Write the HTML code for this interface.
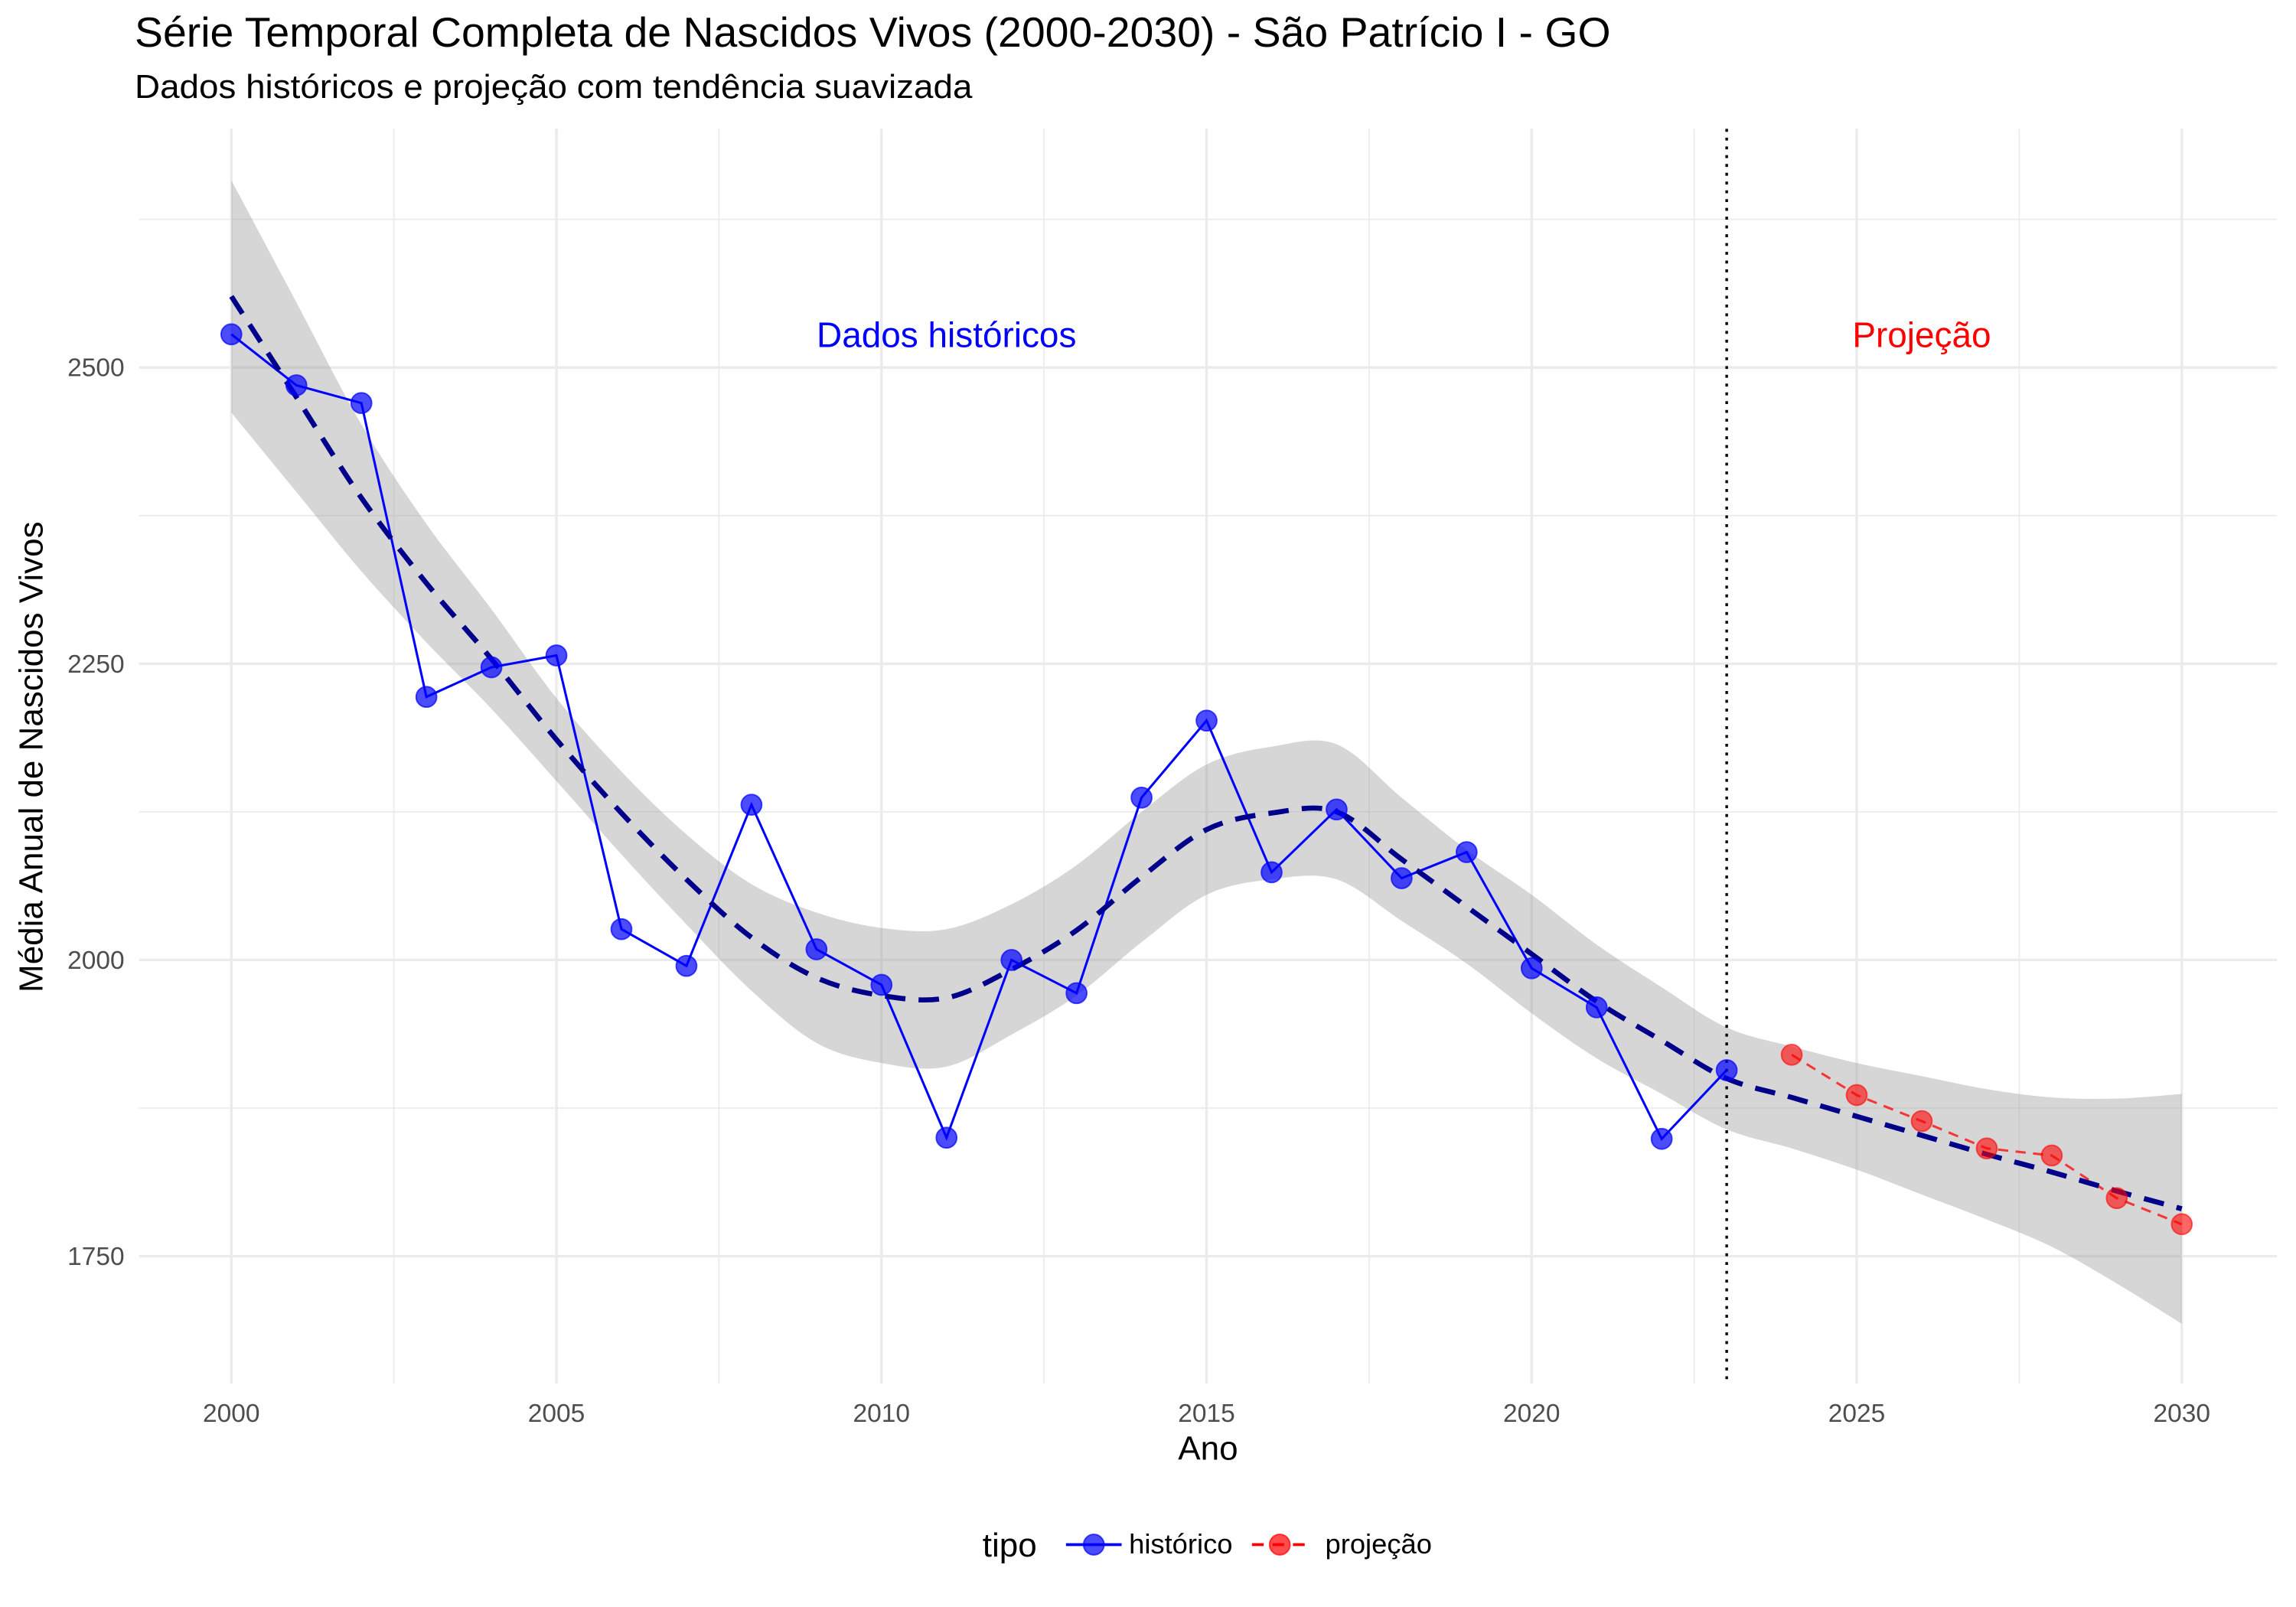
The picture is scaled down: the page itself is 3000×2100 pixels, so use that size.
<!DOCTYPE html>
<html><head><meta charset="utf-8"><style>
html,body{margin:0;padding:0;background:#fff;}
svg{display:block;font-family:"Liberation Sans",sans-serif;}
</style></head><body>
<svg id="chart" width="3000" height="2100" viewBox="0 0 1568 1097.6" xmlns="http://www.w3.org/2000/svg">
<rect width="1568" height="1097.6" fill="#fff"/>
<text x="92" y="32" font-size="28.5" fill="#000" textLength="1008" lengthAdjust="spacingAndGlyphs">Série Temporal Completa de Nascidos Vivos (2000-2030) -  São Patrício I - GO</text>
<text x="92" y="67" font-size="23" fill="#000" textLength="572" lengthAdjust="spacingAndGlyphs">Dados históricos e projeção com tendência suavizada</text>
<g id="grid"></g>
<g id="band"></g>
<g id="marks"></g>
<g id="axes"></g>
<text x="825" y="997" font-size="23" text-anchor="middle">Ano</text>
<text transform="translate(29,517) rotate(-90)" font-size="23" text-anchor="middle">Média Anual de Nascidos Vivos</text>
<g>
<text x="671" y="1063" font-size="23">tipo</text>
<g>
<line x1="728" y1="1055" x2="766" y2="1055" stroke="#0000ff" stroke-width="2"/>
<circle cx="747" cy="1055" r="7" fill="#0000ff" fill-opacity="0.7" stroke="#0000ff" stroke-opacity="0.7"/>
<text x="771" y="1061" font-size="19">histórico</text></g>
<g>
<line x1="855" y1="1055" x2="893" y2="1055" stroke="#ff0000" stroke-width="2" stroke-dasharray="8,6"/>
<circle cx="874" cy="1055" r="7" fill="#ff0000" fill-opacity="0.7" stroke="#ff0000" stroke-opacity="0.7"/>
<text x="905" y="1061" font-size="19">projeção</text></g>
</g>
</svg>
<script>
const histYears=[2000,2001,2002,2003,2004,2005,2006,2007,2008,2009,2010,2011,2012,2013,2014,2015,2016,2017,2018,2019,2020,2021,2022,2023];
const histValues=[2528,2485,2470,2222,2247,2257,2026,1995,2131,2009,1979,1850,2000,1972,2137,2202,2074,2127,2069,2091,1993,1960,1849,1907];
const projYears=[2024,2025,2026,2027,2028,2029,2030];
const projValues=[1920,1886,1864,1841,1835,1799,1777];
const trendYears=[2000,2001,2002,2003,2004,2005,2006,2007,2008,2009,2010,2011,2012,2013,2014,2015,2016,2017,2018,2019,2020,2021,2022,2023,2024,2025,2026,2027,2028,2029,2030];
const trendValues=[2560,2475,2390,2318,2254,2186,2124,2068,2019,1985,1970,1968,1992,2025,2070,2110,2124,2125,2085,2045,2005,1965,1932,1900,1884,1868,1852,1836,1821,1805,1790];
const upperValues=[2658,2555,2452,2368,2296,2221,2159,2106,2064,2040,2027,2026,2047,2080,2125,2165,2180,2182,2137,2093,2055,2013,1977,1943,1927,1913,1902,1891,1884,1883,1887];
const lowerValues=[2462,2395,2328,2268,2212,2151,2089,2030,1974,1930,1913,1910,1937,1970,2015,2055,2068,2068,2033,1997,1955,1917,1887,1857,1841,1823,1802,1781,1758,1727,1693];
const xTicks=[2000,2005,2010,2015,2020,2025,2030];
const yTicks=[1750,2000,2250,2500];
const splitYear=2023;
const NS="http://www.w3.org/2000/svg";
const X0=95,X1=1555,Y0=88,Y1=945;
function xs(v){return 158+(v-2000)*(1490-158)/30;}
function ys(v){return 251+(2500-v)*(858-251)/750;}
function mk(tag,attrs,parent){const e=document.createElementNS(NS,tag);for(const k in attrs)e.setAttribute(k,attrs[k]);parent.appendChild(e);return e;}
function smooth(pts){let d="M"+pts[0][0]+","+pts[0][1];for(let i=0;i<pts.length-1;i++){const p0=pts[Math.max(0,i-1)],p1=pts[i],p2=pts[i+1],p3=pts[Math.min(pts.length-1,i+2)];d+=" C"+(p1[0]+(p2[0]-p0[0])/6)+","+(p1[1]+(p2[1]-p0[1])/6)+" "+(p2[0]-(p3[0]-p1[0])/6)+","+(p2[1]-(p3[1]-p1[1])/6)+" "+p2[0]+","+p2[1];}return d;}
const grid=document.getElementById('grid');
for(let v=1750-125;v<=2625;v+=125){const y=ys(v);if(y<Y0||y>Y1)continue;const major=(v%250===0);
const l=mk('line',{x1:X0,x2:X1,y1:y,y2:y,stroke:'#ebebeb','stroke-width':major?1.8:0.9},grid);

}
for(let v=1997.5;v<=2032.5;v+=2.5){const x=xs(v);if(x<X0||x>X1)continue;const major=(v%5===0);
const l=mk('line',{x1:x,x2:x,y1:Y0,y2:Y1,stroke:'#ebebeb','stroke-width':major?1.8:0.9},grid);

}
const axes=document.getElementById('axes');
xTicks.forEach(t=>{const e=mk('text',{x:xs(t),y:971,'font-size':17.5,fill:'#4d4d4d','text-anchor':'middle'},axes);e.textContent=t;

});
yTicks.forEach(t=>{const e=mk('text',{x:85,y:ys(t)+6,'font-size':17.5,fill:'#4d4d4d','text-anchor':'end'},axes);e.textContent=t;

});
const band=document.getElementById('band');
const up=trendYears.map((y,i)=>[xs(y),ys(upperValues[i])]);
const lo=trendYears.map((y,i)=>[xs(y),ys(lowerValues[i])]).reverse();
const bp=mk('path',{d:smooth(up)+" L"+smooth(lo).slice(1)+" Z",fill:'#999999','fill-opacity':0.4},band);


const marks=document.getElementById('marks');
const hp=mk('polyline',{points:histYears.map((y,i)=>xs(y)+","+ys(histValues[i])).join(" "),fill:'none',stroke:'#0000ff','stroke-width':1.6},marks);


const pp=mk('polyline',{points:projYears.map((y,i)=>xs(y)+","+ys(projValues[i])).join(" "),fill:'none',stroke:'#ff0000','stroke-width':1.6,'stroke-dasharray':'7,5','stroke-opacity':0.75},marks);


const tp=mk('path',{d:smooth(trendYears.map((y,i)=>[xs(y),ys(trendValues[i])])),fill:'none',stroke:'#00008b','stroke-width':3.5,'stroke-dasharray':'14,9'},marks);


const vl=mk('line',{x1:xs(splitYear),x2:xs(splitYear),y1:Y0,y2:Y1,stroke:'#000','stroke-width':1.8,'stroke-dasharray':'2,4'},marks);


histYears.forEach((y,i)=>{const c=mk('circle',{cx:xs(y),cy:ys(histValues[i]),r:7,fill:'#0000ff','fill-opacity':0.7,stroke:'#0000ff','stroke-opacity':0.7},marks);

});
projYears.forEach((y,i)=>{const c=mk('circle',{cx:xs(y),cy:ys(projValues[i]),r:7,fill:'#ff0000','fill-opacity':0.6,stroke:'#ff0000','stroke-opacity':0.6},marks);

});
const a1=mk('text',{x:xs(2011),y:237,'font-size':24,fill:'#0000ff','text-anchor':'middle'},marks);a1.textContent='Dados históricos';


const a2=mk('text',{x:xs(2026.0),y:237,'font-size':24,fill:'#ff0000','text-anchor':'middle'},marks);a2.textContent='Projeção';


</script>
</body></html>
